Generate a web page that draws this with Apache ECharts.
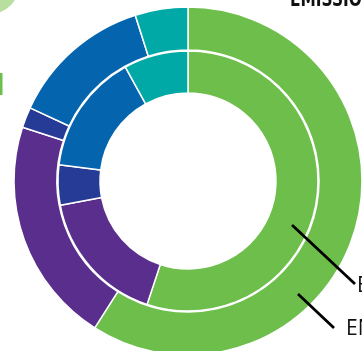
<!DOCTYPE html>
<html>
<head>
<meta charset="utf-8">
<style>
  html, body { margin: 0; padding: 0; background: #ffffff; overflow: hidden; }
  #chart { width: 362px; height: 351px; }
</style>
<script src="https://cdn.jsdelivr.net/npm/echarts@6/dist/echarts.min.js"></script>
</head>
<body>
<div id="chart"></div>
<script>
// Sector shares, in percent, clockwise from twelve o'clock
const categories = ['Energy', 'Agriculture', 'Waste', 'Industry', 'Transport'];
const innerValues = [55.1, 16.9, 5.0, 15.0, 8.0];
const outerValues = [59.0, 21.0, 1.9, 13.2, 4.9];
const colors = ['#6dbe4b', '#5a2e8c', '#253b95', '#0564ae', '#00a8a6'];
const titleText = 'EMISSIONS';
const labelTexts = ['EMISSIONS', 'ENERGY'];

const chart = echarts.init(document.getElementById('chart'), null, { renderer: 'canvas' });

function ring(values, radius) {
  return {
    type: 'pie',
    center: [188, 181],
    radius: radius,
    startAngle: 90,
    clockwise: true,
    silent: true,
    label: { show: false },
    labelLine: { show: false },
    itemStyle: { borderColor: '#ffffff', borderWidth: 1.5 },
    data: categories.map((name, i) => ({
      name: name,
      value: values[i],
      itemStyle: { color: colors[i] }
    }))
  };
}

chart.setOption({
  animation: false,
  series: [
    ring(innerValues, [88, 130]),
    ring(outerValues, [131, 174])
  ],
  graphic: [
    // decorative blob in the top-left corner
    { type: 'circle', shape: { cx: -10, cy: -15, r: 29 }, style: { fill: '#b8dea0' }, z: 1 },
    { type: 'rect', shape: { x: 0, y: 73, width: 2.5, height: 22 }, style: { fill: '#6dbe4b' } },
    // heading, heavy and condensed
    {
      type: 'text', x: 290, y: 11, scaleX: 0.7, originX: 0,
      style: {
        text: titleText, fill: '#111111',
        font: 'bold 22px "DejaVu Sans", sans-serif',
        verticalAlign: 'bottom'
      }
    },
    // leader lines and their labels
    { type: 'line', shape: { x1: 292, y1: 225, x2: 355, y2: 284 }, style: { stroke: '#000000', lineWidth: 2.8 }, z: 10 },
    { type: 'line', shape: { x1: 298, y1: 294, x2: 334, y2: 328 }, style: { stroke: '#000000', lineWidth: 2.8 }, z: 10 },
    {
      type: 'text', x: 357, y: 297,
      style: { text: labelTexts[0], fill: '#111111', font: '21px "Open Sans", sans-serif', verticalAlign: 'bottom' }
    },
    {
      type: 'text', x: 346, y: 340,
      style: { text: labelTexts[1], fill: '#111111', font: '21px "Open Sans", sans-serif', verticalAlign: 'bottom' }
    }
  ]
});
</script>
</body>
</html>
